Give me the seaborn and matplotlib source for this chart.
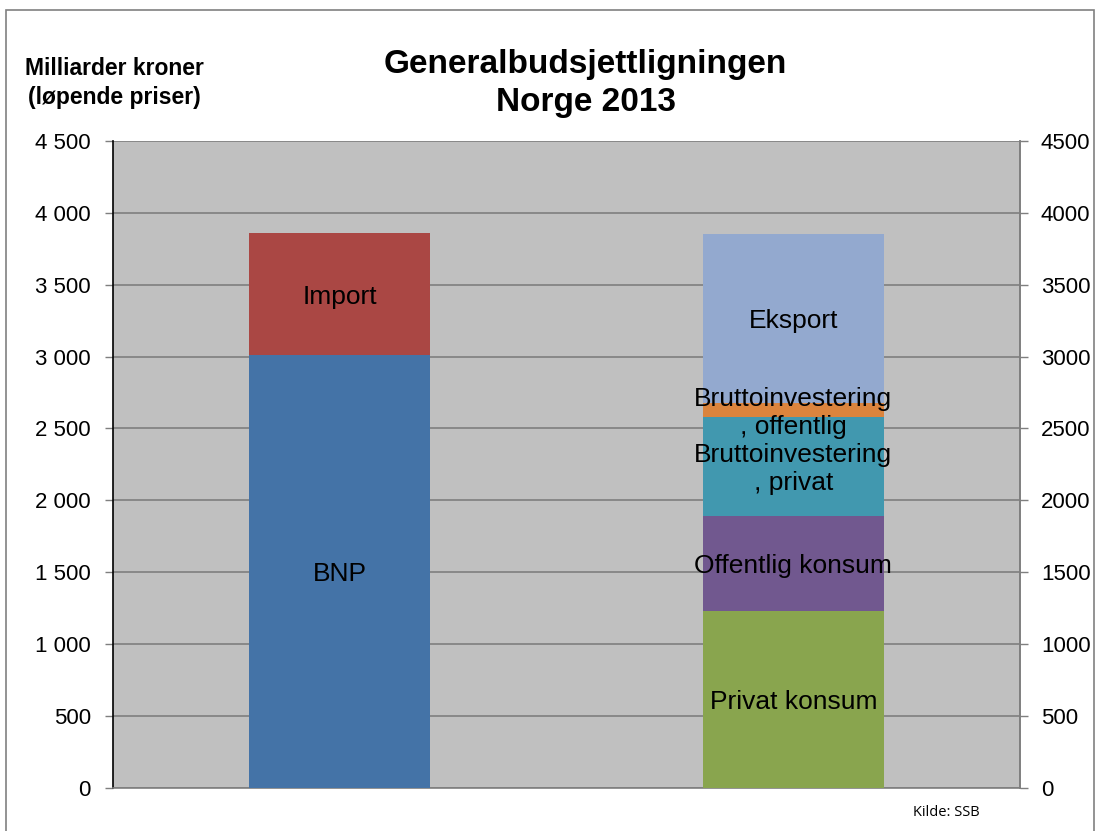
import matplotlib
matplotlib.use("Agg")
import matplotlib.pyplot as plt
import seaborn as sns
import pandas as pd
import numpy as np
from matplotlib.patches import Rectangle

# ---- data ----
sides = ["Tilgang", "Anvendelse"]
left_segments = ["BNP", "Import"]
left_values = [3008, 855]
right_segments = ["Privat konsum", "Offentlig konsum", "Bruttoinvestering\n, privat",
                  "Bruttoinvestering\n, offentlig", "Eksport"]
right_values = [1229, 661, 689, 100, 1177]
left_colors = ["#4473A7", "#AA4744"]
right_colors = ["#89A54E", "#71588F", "#4198AF", "#DB843D", "#93A9CF"]
yticks = [0, 500, 1000, 1500, 2000, 2500, 3000, 3500, 4000, 4500]

rows = []
for side, segs, vals, cols in [(sides[0], left_segments, left_values, left_colors),
                               (sides[1], right_segments, right_values, right_colors)]:
    cum = np.cumsum(vals)
    for i, (s, v, c) in enumerate(zip(segs, vals, cols)):
        rows.append(dict(side=side, segment=s, value=v, cum=cum[i], base=cum[i] - v, color=c))
df = pd.DataFrame(rows)

sns.set_theme(style="white")
plt.rcParams["font.family"] = ["Liberation Sans", "DejaVu Sans"]
plt.rcParams["text.color"] = "black"
plt.rcParams["ytick.labelcolor"] = "black"

fig = plt.figure(figsize=(10.95, 8.31), dpi=100)
ax = fig.add_axes([113/1095, 1-787.5/831, (1020-113)/1095, (787.5-141)/831])
ax.set_facecolor("#C0C0C0")

# draw stacked bars: tallest cumulative first
for _, r in df.sort_values("cum", ascending=False).iterrows():
    sub = df[(df.side == r.side) & (df.segment == r.segment)]
    sns.barplot(data=sub, x="side", y="cum", order=sides, color=r.color,
                width=0.4, saturation=1, ax=ax, zorder=3, linewidth=0, errorbar=None)

for _, r in df.iterrows():
    xi = sides.index(r.side)
    ax.text(xi, (r.base + r.cum) / 2 - 20, r.segment, ha="center", va="center",
            fontsize=19, color="black", zorder=5, linespacing=1.2)

ax.set_xlim(-0.5, 1.5)
ax.set_ylim(0, 4500)
ax.set_yticks(yticks)
ax.set_yticklabels([f"{v:,}".replace(",", " ") for v in yticks])
ax.set_xticks([])
ax.set_xlabel("")
ax.set_ylabel("")
ax.yaxis.grid(True, color="#7F7F7F", linewidth=1.2, zorder=1)
ax.set_axisbelow(True)
ax.tick_params(axis="y", left=True, length=6, width=1, color="#7F7F7F",
               labelsize=16, pad=10, direction="out", labelcolor="black")
for s in ["top"]:
    ax.spines[s].set_visible(False)
ax.spines["left"].set_color("#000000")
ax.spines["bottom"].set_color("#7F7F7F")
ax.spines["right"].set_color("#7F7F7F")
for s in ["left", "bottom", "right"]:
    ax.spines[s].set_linewidth(1.2)

ax2 = ax.twinx()
ax2.set_ylim(0, 4500)
ax2.set_yticks(yticks)
ax2.set_yticklabels([str(v) for v in yticks])
ax2.tick_params(axis="y", right=True, length=6, width=1, color="#7F7F7F",
                labelsize=16, pad=9, direction="out", labelcolor="black")
for s in ["top", "left", "bottom"]:
    ax2.spines[s].set_visible(False)
ax2.spines["right"].set_color("#7F7F7F")
ax2.spines["right"].set_linewidth(1.2)
ax2.grid(False)

fig.text(585/1095, 1-64/831, "Generalbudsjettligningen", ha="center", va="center",
         fontsize=24, fontweight="bold", color="black")
fig.text(586/1095, 1-102/831, "Norge 2013", ha="center", va="center",
         fontsize=24, fontweight="bold", color="black")
fig.text(114/1095, 1-83/831, "Milliarder kroner\n(løpende priser)", ha="center",
         va="center", fontsize=16.5, fontweight="bold", linespacing=1.3, color="black")
fig.text(946/1095, 1-812/831, "Kilde: SSB", ha="center", va="center",
         fontsize=10.5, family=["Open Sans", "DejaVu Sans"], color="black")

fig.patches.append(Rectangle((6/1095, -0.05), (1094-6)/1095, 1.05 - 10/831,
                             transform=fig.transFigure, fill=False,
                             edgecolor="#808080", linewidth=1.2))

fig.savefig("out.png", dpi=100)
